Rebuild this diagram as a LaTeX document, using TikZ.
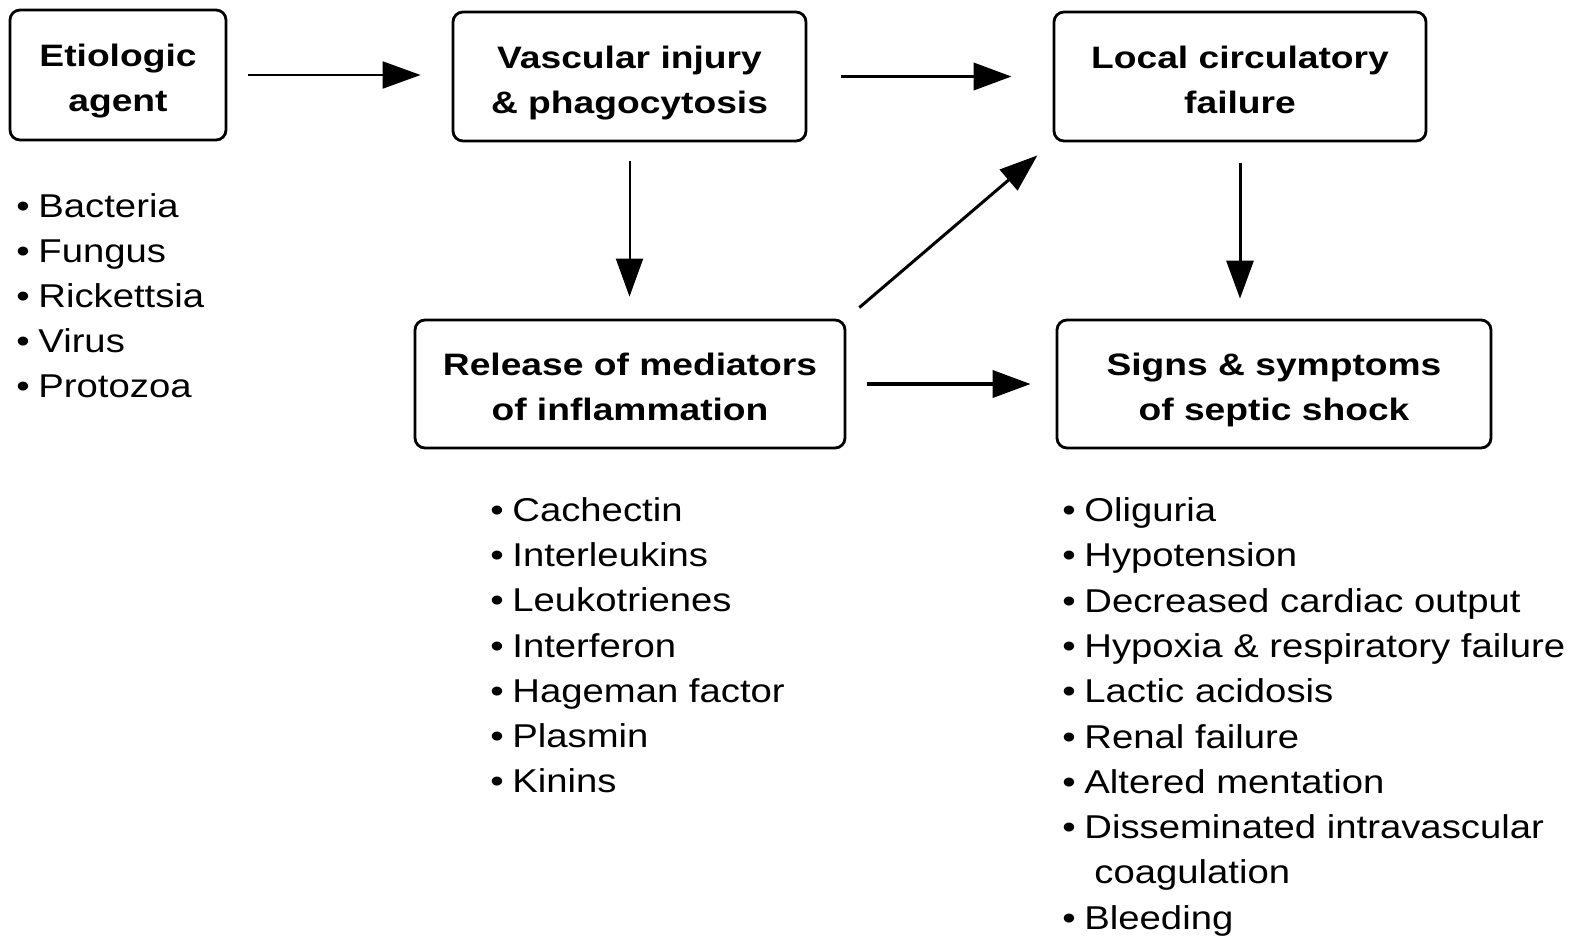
\documentclass[tikz,border=0pt]{standalone}
\usepackage{fontspec}
\setmainfont{Liberation Sans}
\newfontfamily\stagefont[FakeStretch=1.2]{Liberation Sans Bold}
\newfontfamily\listfont[FakeStretch=1.16]{Liberation Sans}
\usetikzlibrary{arrows.meta}

% two centred lines with fixed struts, so every stage box sets its text alike
\newcommand\stagelines[2]{\rule{0pt}{17.5pt}#1\\#2\rule[-3.5pt]{0pt}{3.5pt}}

\begin{document}
\begin{tikzpicture}[x=0.5pt,y=-0.5pt,
  stage/.style={draw, line width=1.4pt, rounded corners=5pt, align=center,
    inner sep=0pt, font=\stagefont\fontsize{15.5pt}{22.5pt}\selectfont},
  item/.style={anchor=base west, inner sep=0pt,
    font=\listfont\fontsize{16.5pt}{22.5pt}\selectfont},
  flow/.style={-{Triangle[length=19pt,width=13.5pt]}},
  thinflow/.style={flow, line width=1pt},
  thickflow/.style={flow, line width=1.9pt},
  midflow/.style={flow, line width=1.5pt}
]
\useasboundingbox (0,0) rectangle (1584,939);

% stages of the cascade
\node[stage, minimum width=108pt, minimum height=65pt]     (eti) at (118,75)     {\stagelines{Etiologic}{agent}};
\node[stage, minimum width=176.5pt, minimum height=64.5pt] (vas) at (629.5,76.5) {\stagelines{Vascular injury}{\& phagocytosis}};
\node[stage, minimum width=186pt, minimum height=64.5pt]   (loc) at (1240,76.5)  {\stagelines{Local circulatory}{failure}};
\node[stage, minimum width=215pt, minimum height=64pt]     (rel) at (630,384)    {\stagelines{Release of mediators}{of inflammation}};
\node[stage, minimum width=217pt, minimum height=64pt]     (sig) at (1274,384)   {\stagelines{Signs \& symptoms}{of septic shock}};

% connectors
\draw[thinflow, shorten <=10.5pt, shorten >=15.5pt] (eti.east) -- (eti.east -| vas.west);
\draw[thickflow, shorten <=17pt, shorten >=20.5pt] (vas.east) -- (loc.west);
\draw[thinflow, shorten <=9.5pt, shorten >=11pt] (vas.south) -- (vas.south |- rel.north);
\draw[midflow, shorten <=8.5pt, shorten >=10pt] (rel.north east) -- (loc.south west);
\draw[midflow, shorten <=10.5pt, shorten >=10pt] (loc.south) -- (loc.south |- sig.north);
\draw[thickflow, shorten <=10.5pt, shorten >=12.5pt] (rel.east) -- (rel.east -| sig.west);

% agents
\foreach \txt [count=\i from 0] in {Bacteria, Fungus, Rickettsia, Virus, Protozoa}
  \node[item] (agent\i) at (16,{217+45.2*\i}) {\makebox[11pt][l]{•}\txt};

% mediators
\foreach \txt [count=\i from 0] in {Cachectin, Interleukins, Leukotrienes, Interferon,
    Hageman factor, Plasmin, Kinins}
  \node[item] (mediator\i) at (490,{521.5+45.2*\i}) {\makebox[11pt][l]{•}\txt};

% signs and symptoms
\foreach \txt [count=\i from 0] in {Oliguria, Hypotension, Decreased cardiac output,
    Hypoxia \& respiratory failure, Lactic acidosis, Renal failure, Altered mentation,
    Disseminated intravascular}
  \node[item] (sign\i) at (1062,{521.5+45.3*\i}) {\makebox[11pt][l]{•}\txt};
\node[item] (sign8) at (1094,{521.5+45.3*8}) {coagulation};
\node[item] (sign9) at (1062,{521.5+45.3*9}) {\makebox[11pt][l]{•}Bleeding};
\end{tikzpicture}
\end{document}
